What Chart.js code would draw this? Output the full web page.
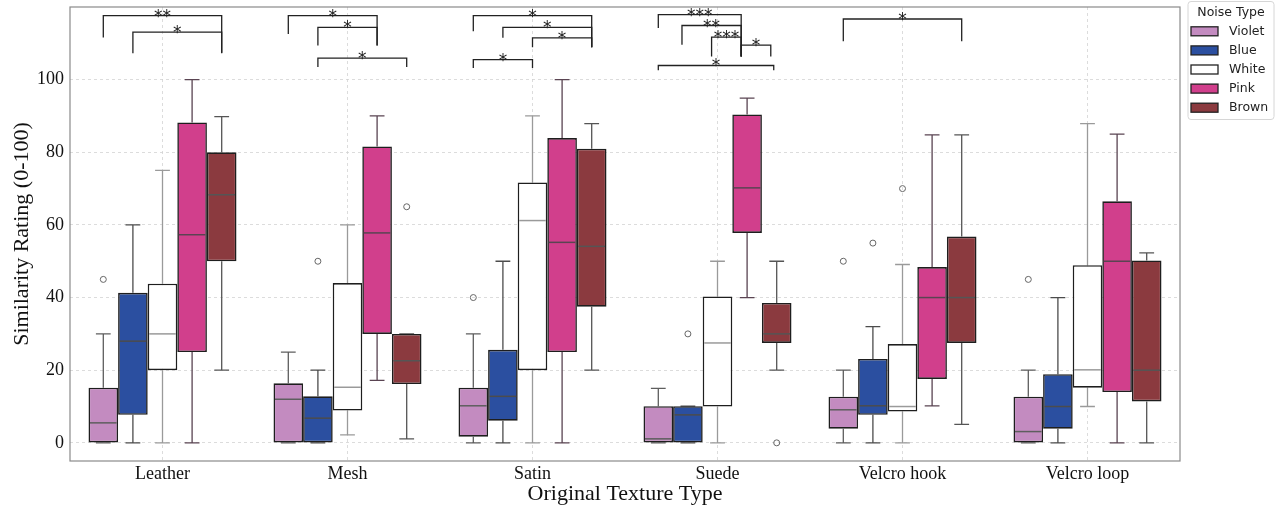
<!DOCTYPE html>
<html>
<head>
<meta charset="utf-8">
<title>Similarity rating by texture and noise type</title>
<script src="https://cdn.jsdelivr.net/npm/chart.js@4.4.0/dist/chart.umd.min.js"></script>
<style>
  html, body { margin: 0; padding: 0; background: #fff; }
  #wrap { width: 1283px; height: 509px; }
</style>
</head>
<body>
<div id="wrap"><canvas id="chart" width="1283" height="509"></canvas></div>
<script>
// Categories and tick labels
const textures = ['Leather', 'Mesh', 'Satin', 'Suede', 'Velcro hook', 'Velcro loop'];
const noiseTypes = ['Violet', 'Blue', 'White', 'Pink', 'Brown'];
const yTicks = [0, 20, 40, 60, 80, 100];

// Box stats per texture: [min whisker, q1, median, q3, max whisker]
const violetStats = [[0, 0, 5.5, 15.2, 30], [0, 0, 12, 16.4, 25], [0, 1.7, 10.2, 15.2, 30], [0, 0, 1.1, 10.1, 15], [0, 3.9, 9.1, 12.7, 20], [0, 0, 3.1, 12.7, 20]];
const blueStats = [[0, 7.7, 28, 41.3, 60], [0, 0, 6.8, 12.8, 20], [0, 6.1, 12.8, 25.6, 50], [0, 0, 7.7, 10.1, 10.1], [0, 7.7, 10.2, 23.1, 32], [0, 3.9, 10, 18.9, 40]];
const whiteStats = [[0, 20, 30, 43.8, 75], [2.2, 8.9, 15.3, 44, 60], [0, 20, 61.2, 71.7, 90], [0, 10, 27.5, 40.3, 50], [0, 8.6, 10, 27.2, 49.1], [10, 15.2, 20.1, 48.9, 87.9]];
const pinkStats = [[0, 25, 57.3, 88.2, 100], [17.2, 30, 57.8, 81.6, 90], [0, 25, 55.2, 83.9, 100], [40, 57.8, 70.2, 90.4, 94.9], [10.2, 17.6, 40, 48.4, 84.8], [0, 14, 50, 66.5, 85]];
const brownStats = [[20, 50, 68.3, 80, 89.8], [1.1, 16.2, 22.6, 30, 30], [20, 37.5, 54.1, 81, 87.9], [20, 27.5, 30, 38.5, 50], [5.1, 27.5, 40, 56.8, 84.8], [0, 11.4, 20, 50.2, 52.3]];

// Outliers per texture
const violetOut = [[45], [], [40], [], [50], [45]];
const blueOut = [[], [50], [], [30], [55], []];
const whiteOut = [[], [], [], [], [70], []];
const pinkOut = [[], [], [], [], [], []];
const brownOut = [[], [65], [], [0], [], []];

// Significance brackets: [texture index, from slot, to slot, top, left leg end, right leg end, label]
const brackets = [
  [0, 0, 4, 117.6, 111.6, 107.4, '**'],
  [0, 1, 4, 113.1, 107.3, 107.3, '*'],
  [1, 0, 3, 117.6, 112.6, 109.4, '*'],
  [1, 1, 3, 114.4, 109.4, 109.4, '*'],
  [1, 1, 4, 105.9, 103.5, 103.5, '*'],
  [2, 0, 4, 117.6, 113.3, 108.9, '*'],
  [2, 1, 4, 114.4, 111.5, 108.9, '*'],
  [2, 2, 4, 111.5, 108.9, 108.9, '*'],
  [2, 0, 2, 105.5, 103.2, 103.2, '*'],
  [3, 0, 2.8, 117.9, 114.2, 106.4, '***'],
  [3, 0.8, 2.8, 114.9, 109.6, 106.4, '**'],
  [3, 1.8, 2.8, 111.7, 106.4, 106.4, '***'],
  [3, 2.8, 3.8, 109.5, 106.4, 106.4, '*'],
  [3, 0, 3.9, 103.9, 102.6, 102.6, '*'],
  [4, 0, 4, 116.7, 110.6, 110.6, '*']
];

const fillColors = ['#c38bc0', '#2b4fa0', '#ffffff', '#d13f8c', '#8b3a3f'];
const lineColors = ['#5e5e5e', '#4c4c4c', '#9a9a9a', '#5a4452', '#555555'];

const seriesStats = [violetStats, blueStats, whiteStats, pinkStats, brownStats];
const seriesOut = [violetOut, blueOut, whiteOut, pinkOut, brownOut];

const serif = "'Liberation Serif', 'Times New Roman', serif";
const sans = "'DejaVu Sans', sans-serif";

// drop the label overhang padding so the plot area sits where we want it
function noOverhang(scale) {
  scale.paddingTop = 0;
  scale.paddingBottom = 0;
  scale.paddingLeft = 0;
  scale.paddingRight = 0;
}

const boxExtras = {
  id: 'boxExtras',
  beforeDatasetsDraw(chart) {
    const { ctx, scales: { y } } = chart;
    ctx.save();
    ctx.lineWidth = 1.3;
    seriesStats.forEach((stats, d) => {
      const meta = chart.getDatasetMeta(d);
      ctx.strokeStyle = lineColors[d];
      meta.data.forEach((bar, i) => {
        const [lo, q1, , q3, hi] = stats[i];
        const cap = bar.width / 4;
        const pHi = y.getPixelForValue(hi);
        const pLo = y.getPixelForValue(lo);
        ctx.beginPath();
        ctx.moveTo(bar.x, y.getPixelForValue(q3));
        ctx.lineTo(bar.x, pHi);
        ctx.moveTo(bar.x - cap, pHi);
        ctx.lineTo(bar.x + cap, pHi);
        ctx.moveTo(bar.x, y.getPixelForValue(q1));
        ctx.lineTo(bar.x, pLo);
        ctx.moveTo(bar.x - cap, pLo);
        ctx.lineTo(bar.x + cap, pLo);
        ctx.stroke();
      });
    });
    ctx.restore();
  },
  afterDatasetsDraw(chart) {
    const { ctx, chartArea, scales: { y } } = chart;
    ctx.save();
    // medians and outliers
    seriesStats.forEach((stats, d) => {
      const meta = chart.getDatasetMeta(d);
      meta.data.forEach((bar, i) => {
        const half = bar.width / 2 - 1.5;
        const pm = y.getPixelForValue(stats[i][2]);
        ctx.strokeStyle = lineColors[d];
        ctx.lineWidth = 1.5;
        ctx.beginPath();
        ctx.moveTo(bar.x - half, pm);
        ctx.lineTo(bar.x + half, pm);
        ctx.stroke();
        ctx.strokeStyle = '#666';
        ctx.lineWidth = 1;
        seriesOut[d][i].forEach((v) => {
          ctx.beginPath();
          ctx.arc(bar.x, y.getPixelForValue(v), 3, 0, Math.PI * 2);
          ctx.stroke();
        });
      });
    });
    // significance brackets
    const m0 = chart.getDatasetMeta(0);
    const m1 = chart.getDatasetMeta(1);
    ctx.strokeStyle = '#222';
    ctx.lineWidth = 1.3;
    ctx.fillStyle = '#222';
    ctx.font = '17px ' + sans;
    ctx.textAlign = 'center';
    ctx.textBaseline = 'alphabetic';
    brackets.forEach(([c, a, b, top, legA, legB, label]) => {
      const x0 = m0.data[c].x;
      const step = m1.data[c].x - x0;
      const xa = x0 + a * step;
      const xb = x0 + b * step;
      const pt = y.getPixelForValue(top);
      ctx.beginPath();
      ctx.moveTo(xa, y.getPixelForValue(legA));
      ctx.lineTo(xa, pt);
      ctx.lineTo(xb, pt);
      ctx.lineTo(xb, y.getPixelForValue(legB));
      ctx.stroke();
      ctx.fillText(label, (xa + xb) / 2, pt + 6);
    });
    // plot frame
    ctx.strokeStyle = '#8a8a8a';
    ctx.lineWidth = 1.2;
    ctx.strokeRect(chartArea.left, chartArea.top, chartArea.right - chartArea.left, chartArea.bottom - chartArea.top);
    ctx.restore();
  },
  afterDraw(chart) {
    const { ctx } = chart;
    ctx.save();
    const lx = 1188, ly = 1.5, lw = 86, lh = 118;
    ctx.fillStyle = 'rgba(255,255,255,0.9)';
    ctx.strokeStyle = '#d6d6d6';
    ctx.lineWidth = 1;
    ctx.beginPath();
    ctx.roundRect(lx, ly, lw, lh, 3);
    ctx.fill();
    ctx.stroke();
    ctx.fillStyle = '#222';
    ctx.font = '12.5px ' + sans;
    ctx.textAlign = 'center';
    ctx.textBaseline = 'middle';
    ctx.fillText('Noise Type', lx + lw / 2, 12.5);
    ctx.textAlign = 'left';
    noiseTypes.forEach((name, i) => {
      const cy = 31.3 + i * 19.1;
      ctx.fillStyle = fillColors[i];
      ctx.fillRect(1191, cy - 4.5, 27, 9);
      ctx.strokeStyle = '#222';
      ctx.lineWidth = 1.3;
      ctx.strokeRect(1191, cy - 4.5, 27, 9);
      ctx.fillStyle = '#222';
      ctx.fillText(name, 1229, cy + 0.5);
    });
    ctx.restore();
  }
};

const datasets = noiseTypes.map((name, d) => ({
  label: name,
  data: seriesStats[d].map((s) => [s[1], s[3]]),
  backgroundColor: fillColors[d],
  borderColor: '#1e1e1e',
  borderWidth: 1.6,
  borderSkipped: false,
  categoryPercentage: 0.8,
  barPercentage: 1.0
}));

new Chart(document.getElementById('chart'), {
  type: 'bar',
  data: { labels: textures, datasets: datasets },
  options: {
    responsive: false,
    animation: false,
    layout: { padding: { top: 7, right: 103, left: 0, bottom: 0 } },
    plugins: {
      legend: { display: false },
      tooltip: { enabled: false }
    },
    scales: {
      x: {
        grid: { offset: false, color: '#d4d4d4', lineWidth: 0.8, drawTicks: false },
        border: { display: false, dash: [3, 3] },
        ticks: { font: { family: serif, size: 18 }, color: '#111', padding: 2 },
        title: {
          display: true,
          text: 'Original Texture Type',
          font: { family: serif, size: 22 },
          color: '#111',
          padding: { top: 0, bottom: 2 }
        },
        afterFit: (scale) => { scale.height = 48; noOverhang(scale); }
      },
      y: {
        min: -5,
        max: 120,
        grid: { color: '#d4d4d4', lineWidth: 0.8, drawTicks: false },
        border: { display: false, dash: [3, 3] },
        afterBuildTicks: (scale) => { scale.ticks = yTicks.map((v) => ({ value: v })); },
        ticks: { font: { family: serif, size: 18 }, color: '#111', padding: 6 },
        title: {
          display: true,
          text: 'Similarity Rating (0-100)',
          font: { family: serif, size: 22 },
          color: '#111',
          padding: { top: 9, bottom: 0 }
        },
        afterFit: (scale) => { scale.width = 70; noOverhang(scale); }
      }
    }
  },
  plugins: [boxExtras]
});
</script>
</body>
</html>
